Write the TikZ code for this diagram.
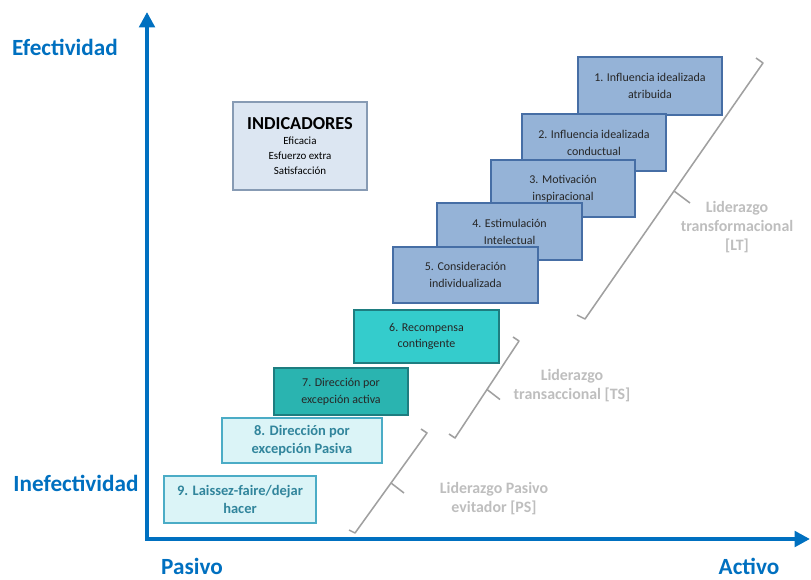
\documentclass[tikz,border=0pt]{standalone}
\usepackage{fontspec}
\setmainfont{Carlito}
\usetikzlibrary{positioning, arrows.meta, calc}
\definecolor{axisblue}{RGB}{0,112,192}
\definecolor{ltfill}{RGB}{149,179,215}
\definecolor{ltdraw}{RGB}{70,110,165}
\definecolor{tsfill}{RGB}{52,204,204}
\definecolor{tsfilldark}{RGB}{42,180,176}
\definecolor{tsdraw}{RGB}{30,125,128}
\definecolor{psfill}{RGB}{219,244,247}
\definecolor{psdraw}{RGB}{75,172,198}
\definecolor{pstext}{RGB}{49,133,156}
\definecolor{indfill}{RGB}{220,230,242}
\definecolor{inddraw}{RGB}{135,155,180}
\definecolor{bracegray}{RGB}{160,160,160}
\definecolor{labelgray}{RGB}{190,190,190}
\tikzset{
    axis/.style={line width=2.8pt, axisblue, line cap=rect, -{Triangle[length=11pt, width=11pt]}},
    axis_label/.style={font=\fontsize{16.5}{19}\selectfont\bfseries, text=axisblue, inner sep=1pt},
    factor_box/.style={rectangle, line width=0.8pt, align=center, inner sep=0pt, font=\fontsize{8.5}{12}\selectfont, text=black!85},
    lt_box/.style={factor_box, draw=ltdraw, fill=ltfill},
    ts_box/.style={factor_box, draw=tsdraw, fill=tsfill},
    ps_box/.style={factor_box, draw=psdraw, fill=psfill, text=pstext, font=\fontsize{10.3}{13}\selectfont\bfseries},
    ind_box/.style={rectangle, draw=inddraw, fill=indfill, line width=0.8pt, align=center, font=\fontsize{7.8}{10.8}\selectfont},
    brace_line/.style={bracegray, line width=1.1pt, line join=round},
    group_label/.style={text=labelgray, align=center, font=\fontsize{11.3}{13.5}\selectfont\bfseries}
}
\begin{document}
\begin{tikzpicture}[x=0.025cm, y=-0.025cm]
    \useasboundingbox (0,0) rectangle (811,580);

    % --- Axes ---
    \coordinate (origin) at (147,539);
    \coordinate (ytip) at (147,12);
    \coordinate (xtip) at (810,539);
    \draw[axis] (origin) -- (ytip);
    \draw[axis] (origin) -- (xtip);
    \node (efect) [axis_label] at (65,47) {Efectividad};
    \node (inefect) [axis_label] at (76,483) {Inefectividad};
    \node (pasivo) [axis_label] at (192,566) {Pasivo};
    \node (activo) [axis_label] at (749,566) {Activo};

    % --- Indicadores ---
    \node (ind) [ind_box, minimum width=3.35cm, minimum height=2.2cm] at (300,146)
        {{\fontsize{13}{15}\selectfont\bfseries INDICADORES}\\[0pt] Eficacia\\ Esfuerzo extra\\ Satisfacción};

    % --- Factores ---
    \node (f1) [lt_box, minimum width=3.6cm, minimum height=1.45cm] at (650,86) {1. Influencia idealizada\\ atribuida};
    \node (f2) [lt_box, minimum width=3.6cm, minimum height=1.425cm] at (594,142.5) {2. Influencia idealizada\\ conductual};
    \node (f3) [lt_box, minimum width=3.6cm, minimum height=1.425cm] at (563,188.5) {3. Motivación\\ inspiracional};
    \node (f4) [lt_box, minimum width=3.625cm, minimum height=1.425cm] at (509.5,231.5) {4. Estimulación\\ Intelectual};
    \node (f5) [lt_box, minimum width=3.625cm, minimum height=1.4cm] at (465.5,275) {5. Consideración\\ individualizada};
    \node (f6) [ts_box, minimum width=3.625cm, minimum height=1.325cm] at (426.5,336.5) {6. Recompensa\\ contingente};
    \node (f7) [ts_box, fill=tsfilldark, minimum width=3.35cm, minimum height=1.175cm] at (341,391.5) {7. Dirección por\\ excepción activa};
    \node (f8) [ps_box, minimum width=4cm, minimum height=1.125cm] at (302,440.5) {8. Dirección por\\ excepción Pasiva};
    \node (f9) [ps_box, minimum width=3.8cm, minimum height=1.175cm] at (240,499.5) {9. Laissez-faire/dejar\\ hacer};

    % --- Llaves ---
    \coordinate (lt_top) at (763,63);
    \coordinate (lt_bot) at (585,319);
    \draw[brace_line] ($(lt_top)+(-7,-5)$) -- (lt_top) -- (lt_bot) -- ($(lt_bot)+(-8,-4)$);
    \draw[brace_line] ($(lt_top)!0.5!(lt_bot)$) -- ++(16,12);

    \coordinate (ts_top) at (519,341);
    \coordinate (ts_bot) at (455,438);
    \draw[brace_line] ($(ts_top)+(-6,-4)$) -- (ts_top) -- (ts_bot) -- ($(ts_bot)+(-6,-4)$);
    \draw[brace_line] ($(ts_top)!0.5!(ts_bot)$) -- ++(13,10);

    \coordinate (ps_top) at (427,433);
    \coordinate (ps_bot) at (355,533);
    \draw[brace_line] ($(ps_top)+(-6,-4)$) -- (ps_top) -- (ps_bot) -- ($(ps_bot)+(-6,-3)$);
    \draw[brace_line] ($(ps_top)!0.5!(ps_bot)$) -- ++(13,10);

    % --- Estilos de liderazgo ---
    \node (lt) [group_label] at (737,227) {Liderazgo\\ transformacional\\ {[LT]}};
    \node (ts) [group_label] at (572,386) {Liderazgo\\ transaccional [TS]};
    \node (ps) [group_label] at (494,499) {Liderazgo Pasivo\\ evitador [PS]};
\end{tikzpicture}
\end{document}
